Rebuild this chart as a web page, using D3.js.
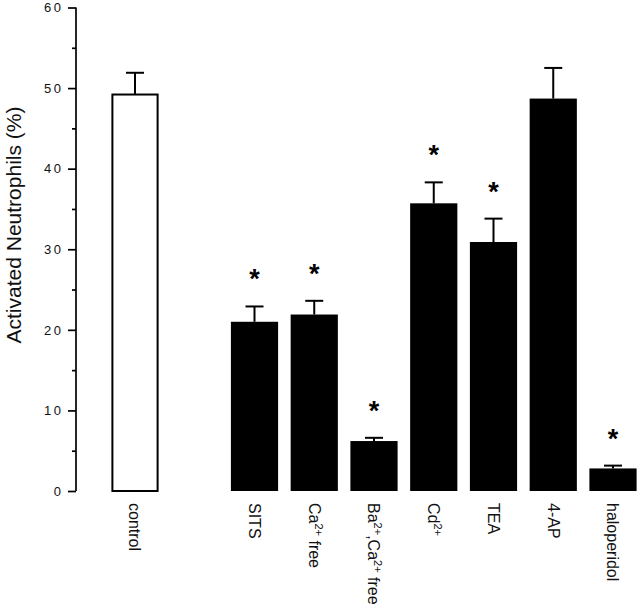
<!DOCTYPE html>
<html>
<head>
<meta charset="utf-8">
<script src="https://cdn.jsdelivr.net/npm/d3@7"></script>
<style>
  html, body { margin: 0; padding: 0; background: #fff; }
  svg { display: block; font-family: "Liberation Sans", Arial, Helvetica, sans-serif; }
</style>
</head>
<body>
<svg id="chart" width="640" height="605"></svg>
<script>
// ---- data ----
const categories = ["control", "gap", "SITS", "Ca free", "Ba,Ca free", "Cd", "TEA", "4-AP", "haloperidol"];
const barKeys    = ["control", "SITS", "Ca free", "Ba,Ca free", "Cd", "TEA", "4-AP", "haloperidol"];
const meanValues = [49.2, 21.0, 21.9, 6.2, 35.7, 30.9, 48.7, 2.8];
const semValues  = [2.7, 1.9, 1.7, 0.4, 2.6, 2.9, 3.8, 0.35];
const significant = [false, true, true, true, true, true, false, true];
const fillColors = ["#fff", "#000", "#000", "#000", "#000", "#000", "#000", "#000"];
// label parts: [text, isSuperscript]
const labelParts = [
  [["control", false]],
  [["SITS", false]],
  [["Ca", false], ["2+", true], [" free", false]],
  [["Ba", false], ["2+", true], [",Ca", false], ["2+", true], [" free", false]],
  [["Cd", false], ["2+", true]],
  [["TEA", false]],
  [["4-AP", false]],
  [["haloperidol", false]]
];
const yTicks = [0, 10, 20, 30, 40, 50, 60];
const yMinorTicks = [5, 15, 25, 35, 45, 55];
const yTitle = "Activated Neutrophils (%)";

// ---- scales ----
const svg = d3.select("#chart");
const y = d3.scaleLinear().domain([0, 60]).range([491, 7.5]);
const x = d3.scaleBand().domain(categories).range([111.4, 636.6]).paddingInner(0.21).paddingOuter(0);

const bars = barKeys.map((k, i) => ({
  key: k, v: meanValues[i], e: semValues[i], sig: significant[i], fill: fillColors[i], parts: labelParts[i]
}));

// ---- y axis ----
const axisX = 76;
const yAxis = svg.append("g").attr("transform", `translate(${axisX},0)`)
  .call(d3.axisLeft(y).tickValues(yTicks).tickSize(8).tickPadding(7).tickFormat(d3.format("d")));
yAxis.select(".domain").attr("stroke", "#000").attr("stroke-width", 1.7).attr("d", `M0,${y(60)}V${y(0)}`);
yAxis.selectAll(".tick line").attr("stroke", "#000").attr("stroke-width", 1.7);
yAxis.selectAll(".tick text")
  .attr("font-size", 13).attr("fill", "#111")
  .attr("font-family", "\"Liberation Sans\", Arial, sans-serif")
  .style("letter-spacing", "2.5px")
  .attr("dx", 2.5);

const yMinor = svg.append("g").attr("transform", `translate(${axisX},0)`)
  .call(d3.axisLeft(y).tickValues(yMinorTicks).tickSize(4).tickFormat(""));
yMinor.select(".domain").remove();
yMinor.selectAll(".tick line").attr("stroke", "#000").attr("stroke-width", 1.7);

// y title
svg.append("text")
  .attr("transform", `translate(21,225) rotate(-90)`)
  .attr("text-anchor", "middle")
  .attr("font-size", 21)
  .attr("fill", "#111")
  .text(yTitle);

// ---- bars ----
const bw = x.bandwidth();
const g = svg.append("g");

// error bars
bars.forEach(d => {
  const cx = x(d.key) + bw / 2;
  g.append("line").attr("x1", cx).attr("x2", cx).attr("y1", y(d.v)).attr("y2", y(d.v + d.e))
    .attr("stroke", "#000").attr("stroke-width", 2);
  g.append("line").attr("x1", cx - 9).attr("x2", cx + 9).attr("y1", y(d.v + d.e)).attr("y2", y(d.v + d.e))
    .attr("stroke", "#000").attr("stroke-width", 2);
});

g.selectAll("rect.bar").data(bars).join("rect")
  .attr("class", "bar")
  .attr("x", d => x(d.key) + (d.fill === "#fff" ? 1 : 0))
  .attr("y", d => y(d.v))
  .attr("width", d => bw - (d.fill === "#fff" ? 2 : 0))
  .attr("height", d => y(0) - y(d.v))
  .attr("fill", d => d.fill)
  .attr("stroke", "#000")
  .attr("stroke-width", d => d.fill === "#fff" ? 2 : 0);

// significance asterisks
g.selectAll("text.sig").data(bars.filter(d => d.sig)).join("text")
  .attr("class", "sig")
  .attr("x", d => x(d.key) + bw / 2)
  .attr("y", d => y(d.v + d.e) - 32 + 14)
  .attr("text-anchor", "middle")
  .attr("font-size", 27)
  .attr("font-weight", "bold")
  .attr("fill", "#000")
  .text("*");

// ---- x labels (rotated) ----
bars.forEach(d => {
  const cx = x(d.key) + bw / 2;
  const t = svg.append("text")
    .attr("transform", `translate(${cx},503) rotate(90)`)
    .attr("text-anchor", "start")
    .attr("dy", "0.35em")
    .attr("font-size", 16)
    .attr("fill", "#111");
  d.parts.forEach(([s, sup]) => {
    const ts = t.append("tspan").text(s);
    if (sup) ts.attr("font-size", 11).attr("baseline-shift", "6");
  });
});
</script>
</body>
</html>
